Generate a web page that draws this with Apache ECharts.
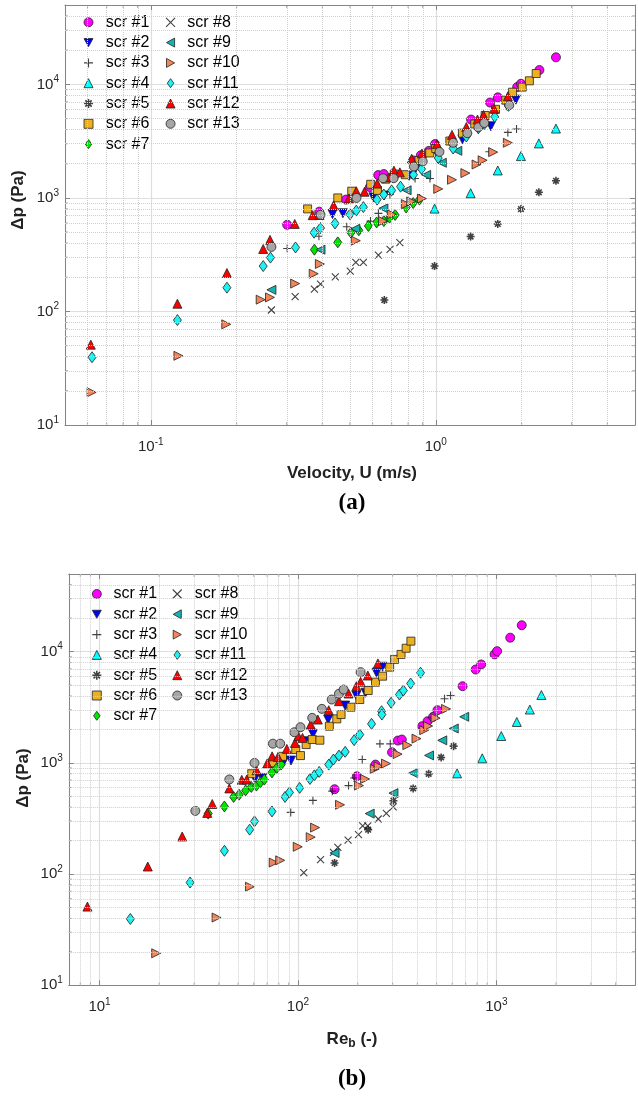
<!DOCTYPE html>
<html><head><meta charset="utf-8">
<script src="https://cdn.jsdelivr.net/npm/echarts@6/dist/echarts.min.js"></script>
<style>html,body{margin:0;padding:0;background:#fff}#c{width:638px;height:1097px}</style>
</head><body><div id="c"></div>
<script>
const names = ['scr #1','scr #2','scr #3','scr #4','scr #5','scr #6','scr #7','scr #8','scr #9','scr #10','scr #11','scr #12','scr #13'];

// velocity U (m/s), Reynolds Re_b (-), pressure drop dp (Pa)
const u1  = [0.301,0.39,0.484,0.587,0.628,0.657,0.833,0.886,0.945,0.994,1.33,1.55,1.65,1.93,1.99,2.31,2.64];
const re1 = [153,198,246,298,319,334,423,450,480,505,676,787,839,980,1009,1175,1343];
const dp1 = [580,757,966,1245,1588,1622,2138,2371,2595,2978,4898,6918,7684,9460,10120,13370,17300];

const u2  = [0.434,0.472,0.604,0.659,0.807,0.85,1.01,1.24,1.41,1.56,1.78,1.91];
const re2 = [60.7,66.1,84.5,92.3,113,119,142,173,197,219,249,267];
const dp2 = [720,733,1012,1050,1566,1824,2455,3281,4036,4276,6470,7330];

const u3  = [0.301,0.389,0.487,0.59,0.629,0.69,0.846,0.954,1.54,1.79,1.92];
const re3 = [92,119,149,180,192,211,259,292,471,548,588];
const dp3 = [359,460,557,625,731,1072,1484,1484,2548,3776,4036];

const u4  = [0.99,1.325,1.65,1.99,2.30,2.64];
const re4 = [634,849,1059,1268,1476,1687];
const dp4 = [805,1100,1745,2335,3020,4080];

const u5  = [0.66,0.99,1.325,1.65,1.99,2.30,2.64];
const re5 = [153,226,303,381,456,527,609];
const dp5 = [126,251,457,590,797,1120,1415];

const u6  = [0.355,0.453,0.507,0.591,0.624,0.667,0.715,0.782,0.873,0.952,1.0,1.12,1.24,1.37,1.49,1.62,1.76,1.86,2.01,2.13,2.25];
const re6 = [58.5,74.8,83.6,97.5,103,110,118,129,144,157,165,185,205,226,246,267,290,307,331,351,371];
const dp6 = [800,1000,1146,1318,1164,1462,1622,1600,2138,2489,2722,3170,3716,4477,5321,6026,7262,8531,9462,10750,12450];

const u7  = [0.375,0.453,0.504,0.537,0.58,0.62,0.657,0.688,0.72,0.787,0.833,0.876];
const re7 = [35.3,42.6,47.4,50.5,54.5,58.2,61.8,64.7,67.7,74.0,78.3,82.3];
const dp7 = [350,406,494,518,566,608,625,669,708,822,901,966];

const u8  = [0.265,0.321,0.375,0.394,0.444,0.501,0.524,0.557,0.629,0.691,0.748];
const re8 = [107,130,151,159,179,202,212,225,254,279,302];
const dp8 = [103,135,157,174,202,227,271,271,313,352,403];

const u9  = [0.265,0.394,0.522,0.655,0.79,0.925,1.05,1.19];
const re9 = [153,230,303,381,458,534,610,689];
const dp9 = [155,350,535,810,1168,1595,2040,2598];

const u10  = [0.062,0.125,0.184,0.243,0.262,0.321,0.373,0.392,0.524,0.653,0.701,0.785,0.82,0.894,1.02,1.14,1.27,1.39,1.46,1.59,1.79];
const re10 = [19.3,38.9,57.3,75.5,81.4,99.8,116,122,163,203,218,244,255,278,318,356,396,433,453,494,558];
const dp10 = [19.4,40.7,77,127,133,176,215,262,420,625,717,883,931,986,1200,1444,1654,1970,2145,2530,3058];

const u11  = [0.0622,0.124,0.185,0.248,0.263,0.322,0.374,0.394,0.443,0.50,0.526,0.557,0.622,0.657,0.70,0.752,0.835,0.891,1.02,1.15,1.15,1.28,1.41,1.48,1.61,1.80];
const re11 = [14.3,28.6,42.6,57.1,60.4,74,86.1,90.6,102,115,121,128,143,151,161,173,192,205,235,264,265,295,325,340,370,415];
const dp11 = [39.5,84,162,251,298,366,494,543,596,717,773,830,966,1072,1164,1257,1600,1798,2245,2917,2722,3475,4121,4477,5176,6470];

const u12  = [0.0616,0.124,0.185,0.248,0.262,0.320,0.370,0.391,0.438,0.496,0.526,0.562,0.623,0.685,0.713,0.748,0.823,0.894,1.01,1.14,1.28,1.40,1.47,1.60,1.79];
const re12 = [8.69,17.5,26.1,34.9,37.0,45.1,52.1,55.2,61.8,70,74.1,79.3,87.9,96.6,100.5,105.5,116,126,143,161,180,197,207,225,253];
const dp12 = [51,117,218,355,427,590,705,708,860,990,1146,1132,1337,1514,1738,1679,2213,2455,2978,3590,4207,4898,5370,6110,7855];

const u13  = [0.265,0.394,0.527,0.653,0.711,0.838,0.90,1.03,1.15,1.29,1.41,1.48,1.81];
const re13 = [30.4,45.1,60.4,74.8,81.4,95.9,103,118,132,148,161,170,207];
const dp13 = [370,710,1000,1490,1490,1888,2095,2542,3062,3716,4188,4571,6550];

// minor grid / tick values
const minorXa = [0.06,0.07,0.08,0.09,0.2,0.3,0.4,0.5,0.6,0.7,0.8,0.9,2,3,4];
const minorXb = [8,9,20,30,40,50,60,70,80,90,200,300,400,500,600,700,800,900,2000,3000,4000];
const minorY  = [20,30,40,50,60,70,80,90,200,300,400,500,600,700,800,900,2000,3000,4000,5000,6000,7000,8000,9000,20000,30000,40000];
const xRangeA = [0.05, 5], xRangeB = [7, 5000], yRange = [10, 50000];

const U  = [u1,u2,u3,u4,u5,u6,u7,u8,u9,u10,u11,u12,u13];
const RE = [re1,re2,re3,re4,re5,re6,re7,re8,re9,re10,re11,re12,re13];
const DP = [dp1,dp2,dp3,dp4,dp5,dp6,dp7,dp8,dp9,dp10,dp11,dp12,dp13];

const F = 'Arial, "Liberation Sans", Helvetica, sans-serif';
const PLUS = 'path://M5,0L5,10M0,5L10,5';
const CROSS = 'path://M0,0L10,10M10,0L0,10';
const STAR = 'path://M5,0L5,10M0,5L10,5M1.5,1.5L8.5,8.5M8.5,1.5L1.5,8.5';
const TRI_DN = 'path://M0,0L10,0L5,9Z';
const TRI_L = 'path://M9,0L9,10L0,5Z';
const TRI_R = 'path://M0,0L9,5L0,10Z';
const DIAM = 'path://M4,0L8,5.5L4,11L0,5.5Z';
const symbols = ['circle',TRI_DN,PLUS,'triangle',STAR,'rect',DIAM,CROSS,TRI_L,TRI_R,DIAM,'triangle','circle'];
const colors = ['#ff00ff','#0000ff','#000000','#00ffff','#000000','#edb120','#00e600','#000000','#17b3b3','#f4845a','#1ef2f2','#ff0000','#a6a6a6'];
const sizes = [9,9,8,9,8,8,[8,11],7,9,9,[8,11],9,9];
const lineWidths = [0,0,1.1,0,1.6,0,0,1.1,0,0,0,0,0];

function fmt(v){
  const l = Math.log10(v), e = Math.round(l);
  if (Math.abs(l - e) > 1e-6) return '';
  return '{b|10}{s|' + e + '}';
}
const rich = {b:{fontSize:15,fontFamily:F,color:'#262626'}, s:{fontSize:10,fontFamily:F,color:'#262626',padding:[0,0,10,0]}};
const axCol = '#858585';

function axes(grid, range, isX){
  const base = {gridIndex:grid, type:'log', logBase:10, min:range[0], max:range[1],
    axisLine:{show:true,lineStyle:{color:axCol,width:1}},
    axisTick:{show:true,inside:true,length:5,lineStyle:{color:axCol}}};
  const main = Object.assign({}, base, {
    position: isX ? 'bottom' : 'left',
    axisLabel:{show:true, formatter:fmt, rich:rich, margin: isX ? 12 : 6, showMinLabel:true, showMaxLabel:true},
    splitLine:{show:true,lineStyle:{color:'#dedede',width:1.2}}
  });
  const opp = Object.assign({}, base, {
    position: isX ? 'top' : 'right',
    axisLabel:{show:false}, splitLine:{show:false}
  });
  return [main, opp];
}

function styleOf(i){
  return lineWidths[i]
    ? {color:'rgba(0,0,0,0)', borderColor:'#111', borderWidth:lineWidths[i]}
    : {color: colors[i], borderColor:'#222', borderWidth:0.8, opacity:1};
}

const series = [];
for (let g = 0; g < 2; g++) {
  for (let i = 0; i < 13; i++) {
    const X = g === 0 ? U[i] : RE[i];
    series.push({
      name: names[i], type:'scatter', xAxisIndex: g*2, yAxisIndex: g*2,
      data: X.map((x,k)=>[x, DP[i][k]]),
      symbol: symbols[i], symbolSize: sizes[i],
      itemStyle: styleOf(i),
      emphasis:{disabled:true}, animation:false, z: 3
    });
  }
  const mx = g === 0 ? minorXa : minorXb;
  const xr = g === 0 ? xRangeA : xRangeB;
  // minor dotted grid
  series.push({
    type:'scatter', xAxisIndex:g*2, yAxisIndex:g*2, data:[], z:1, silent:true,
    markLine:{silent:true, symbol:['none','none'], label:{show:false}, animation:false,
      lineStyle:{type:'dotted', color:'#cfcfcf', width:1},
      emphasis:{disabled:true},
      data: mx.map(v=>({xAxis:v})).concat(minorY.map(v=>({yAxis:v})))}
  });
  // minor ticks (inside) on the four sides
  const tick = (data, size, off) => ({
    type:'scatter', xAxisIndex:g*2, yAxisIndex:g*2, data:data, symbol:'rect',
    symbolSize:size, symbolOffset:off, silent:true, z:4, animation:false,
    itemStyle:{color:axCol}, emphasis:{disabled:true}
  });
  series.push(tick(mx.map(v=>[v, yRange[0]]), [1,3], [0,-1.5]));
  series.push(tick(mx.map(v=>[v, yRange[1]]), [1,3], [0,1.5]));
  series.push(tick(minorY.map(v=>[xr[0], v]), [3,1], [1.5,0]));
  series.push(tick(minorY.map(v=>[xr[1], v]), [3,1], [-1.5,0]));
}

function legend(idx, left, top, pad){
  return {
    data: idx.map(i=>({name:names[i], icon:symbols[i], itemStyle:styleOf(i)})),
    orient:'vertical', left:left, top:top, padding:0, itemWidth:9, itemHeight:9, itemGap:2.3,
    selectedMode:false,
    textStyle:{fontFamily:F, fontSize:16, color:'#000', lineHeight:18, padding:[0,0,0,pad]}};
}
const colA = [0,1,2,3,4,5,6], colB = [7,8,9,10,11,12];

const chart = echarts.init(document.getElementById('c'), null, {renderer:'canvas'});
chart.setOption({
  animation:false,
  backgroundColor:'#fff',
  grid:[{left:65, top:5, width:573, height:420}, {left:68.8, top:574, width:574.6, height:411.3}],
  xAxis: axes(0,xRangeA,true).concat(axes(1,xRangeB,true)),
  yAxis: axes(0,yRange,false).concat(axes(1,yRange,false)),
  legend:[
    legend(colA, 83.2, 13.3, 7.8),
    legend(colB, 165.5, 13.3, 7.2),
    legend(colA, 91.5, 585, 7.2),
    legend(colB, 172.2, 585, 8.1)
  ],
  series: series,
  graphic:[
    {type:'text', x:18.5, y:200, rotation:Math.PI/2, style:{text:'Δp (Pa)', fontFamily:F, fontWeight:'bold', fontSize:17, fill:'#222', align:'center', verticalAlign:'middle'}},
    {type:'text', x:352, y:473, style:{text:'Velocity, U (m/s)', fontFamily:F, fontWeight:'bold', fontSize:17, fill:'#222', align:'center', verticalAlign:'middle'}},
    {type:'text', x:352, y:503, style:{text:'(a)', fontFamily:'"Liberation Serif", "Times New Roman", serif', fontWeight:'bold', fontSize:23, fill:'#000', align:'center', verticalAlign:'middle'}},
    {type:'text', x:23, y:778, rotation:Math.PI/2, style:{text:'Δp (Pa)', fontFamily:F, fontWeight:'bold', fontSize:17, fill:'#222', align:'center', verticalAlign:'middle'}},
    {type:'text', x:352, y:1039, style:{text:'{a|Re}{b|b}{a| (-)}', rich:{a:{fontFamily:F, fontWeight:'bold', fontSize:17, fill:'#222'}, b:{fontFamily:F, fontWeight:'bold', fontSize:12, fill:'#222', padding:[10,0,0,0]}}, align:'center', verticalAlign:'middle'}},
    {type:'text', x:352, y:1079, style:{text:'(b)', fontFamily:'"Liberation Serif", "Times New Roman", serif', fontWeight:'bold', fontSize:23, fill:'#000', align:'center', verticalAlign:'middle'}}
  ]
});
</script>
</body></html>
